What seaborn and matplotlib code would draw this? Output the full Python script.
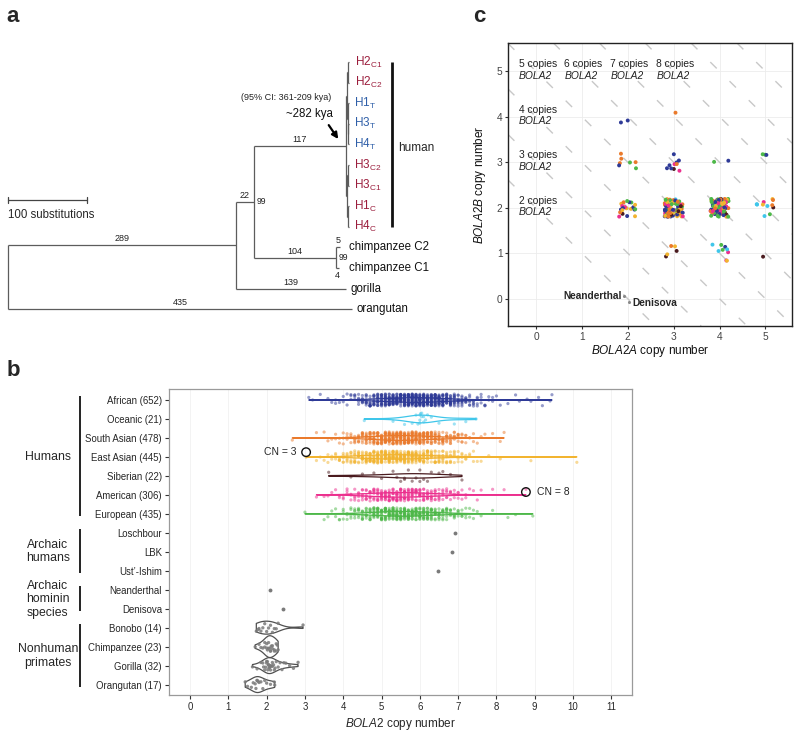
import numpy as np
import pandas as pd
import matplotlib
matplotlib.use("Agg")
import matplotlib.pyplot as plt
import matplotlib.transforms as mtransforms
import seaborn as sns

sns.set_style("white")
plt.rcParams['font.family'] = ['Liberation Sans', 'DejaVu Sans']
plt.rcParams['mathtext.fontset'] = 'custom'
plt.rcParams['mathtext.rm'] = 'Liberation Sans'
plt.rcParams['mathtext.it'] = 'Liberation Sans:italic'
plt.rcParams['mathtext.bf'] = 'Liberation Sans:bold'

# ---------------- panel a: tree ----------------
# node = (tip name, branch length in substitutions, children, bootstrap)
def leaf(name, bl):
    return (name, bl, [], None)

human_clade = ("", 117, [
    ("", 1, [
        ("", 1, [leaf("H2|C1", 2), leaf("H2|C2", 2)], None),
        ("", 1, [leaf("H1|T", 1.5), ("", 0.5, [leaf("H3|T", 1), leaf("H4|T", 1)], None)], None),
    ], None),
    ("", 1, [
        ("", 1, [leaf("H3|C2", 1.5), leaf("H3|C1", 1.5)], None),
        ("", 1.5, [leaf("H1|C", 1), leaf("H4|C", 1)], None),
    ], None),
], None)
chimp_clade = ("", 104, [leaf("chimpanzee C2", 5), leaf("chimpanzee C1", 4)], 99)
tree = ("", 0, [
    ("", 289, [
        ("", 22, [human_clade, chimp_clade], 99),
        leaf("gorilla", 139),
    ], None),
    leaf("orangutan", 435),
], None)

hap_colors = {'C': '#9B1D3C', 'T': '#2F5FA8'}

# ---------------- panel b: BOLA2 copy number per population ----------------
groups = ['African (652)', 'Oceanic (21)', 'South Asian (478)', 'East Asian (445)',
          'Siberian (22)', 'American (306)', 'European (435)', 'Loschbour', 'LBK',
          'Ust\u2019-Ishim', 'Neanderthal', 'Denisova', 'Bonobo (14)',
          'Chimpanzee (23)', 'Gorilla (32)', 'Orangutan (17)']

# large populations: counts in 0.1-wide bins from a start value, plus sparse tail points
african_start = 3.6
african_counts = [1, 1, 2, 1, 2, 2, 3, 4, 5, 7, 9, 11, 13, 16, 18, 20, 22, 24, 26, 28,
                  30, 31, 32, 32, 32, 31, 30, 28, 26, 24, 21, 18, 16, 13, 11, 9, 7, 6, 5, 4,
                  3, 3, 2, 2, 1, 1]
african_extra = [3.1, 3.2, 3.4, 8.3, 8.5, 8.6, 8.8, 8.9, 9.1, 9.2, 9.4, 9.45]

south_asian_start = 3.3
south_asian_counts = [1, 0, 1, 1, 1, 2, 2, 3, 3, 4, 5, 7, 9, 11, 13, 15, 17, 19, 21, 22,
                      23, 24, 24, 24, 23, 22, 21, 20, 18, 16, 15, 13, 11, 10, 8, 7, 6, 5, 4, 3,
                      2, 2, 1, 1, 1]
south_asian_extra = [2.67, 7.9, 8.1, 8.2]

east_asian_start = 3.3
east_asian_counts = [1, 1, 1, 2, 2, 3, 4, 5, 6, 7, 9, 10, 12, 14, 15, 17, 18, 19, 20, 20,
                     21, 21, 20, 20, 19, 18, 17, 16, 14, 13, 11, 10, 9, 8, 7, 6, 5, 4, 4, 3,
                     2, 2, 1, 1]
east_asian_extra = [3.03, 7.8, 8.1, 8.9, 10.1]

american_start = 3.3
american_counts = [1, 0, 1, 1, 1, 1, 2, 2, 3, 3, 4, 5, 6, 7, 8, 9, 10, 11, 12, 13,
                   13, 14, 14, 14, 13, 13, 12, 11, 10, 9, 8, 7, 6, 5, 5, 4, 3, 3, 2, 2,
                   1, 1, 1, 1]
american_extra = [7.9, 8.2, 8.77]

european_start = 3.5
european_counts = [1, 1, 1, 2, 2, 3, 3, 4, 5, 6, 8, 9, 11, 13, 15, 17, 18, 19, 20, 21,
                   21, 21, 20, 20, 19, 18, 16, 15, 13, 12, 10, 9, 8, 6, 5, 4, 4, 3, 2, 2,
                   1, 1]
european_extra = [3.0, 7.9, 8.3, 8.5, 8.95]

# small groups: individual values
oceanic = [4.55, 5.3, 5.6, 5.8, 5.9, 5.95, 6.0, 6.0, 6.0, 6.02, 6.05, 6.05, 6.1, 6.1,
           6.15, 6.2, 6.3, 6.5, 6.9, 7.2, 7.47]
siberian = [3.62, 4.2, 4.5, 4.8, 5.0, 5.3, 5.4, 5.5, 5.6, 5.6, 5.7, 5.8, 5.9, 6.0,
            6.0, 6.1, 6.2, 6.3, 6.5, 6.6, 6.8, 7.1]
loschbour = [6.93]
lbk = [6.85]
ust_ishim = [6.48]
neanderthal = [2.09]
denisova = [2.43]
bonobo = [1.73, 1.78, 1.8, 1.85, 1.9, 1.95, 2.0, 2.05, 2.1, 2.15, 2.2, 2.25, 2.3, 2.95]
chimpanzee = [1.7, 1.8, 1.85, 1.9, 1.95, 1.95, 2.0, 2.0, 2.02, 2.05, 2.05, 2.08, 2.1,
              2.1, 2.12, 2.15, 2.15, 2.2, 2.2, 2.25, 2.25, 2.28, 2.3]
gorilla = [1.63, 1.75, 1.85, 1.9, 1.92, 1.95, 1.98, 2.0, 2.0, 2.02, 2.03, 2.05, 2.05,
           2.07, 2.08, 2.1, 2.1, 2.12, 2.15, 2.15, 2.18, 2.2, 2.22, 2.25, 2.3, 2.35,
           2.4, 2.45, 2.5, 2.6, 2.7, 2.82]
orangutan = [1.44, 1.5, 1.6, 1.65, 1.7, 1.72, 1.75, 1.75, 1.78, 1.8, 1.85, 1.9, 1.95,
             2.0, 2.1, 2.2, 2.21]

pop_colors = ['#2E3A97', '#3FC6EA', '#EA7A2C', '#F2B430', '#4A1B1F', '#EC2F8E', '#4DB849']
section_names = ['Humans', 'Archaic\nhumans', 'Archaic\nhominin\nspecies', 'Nonhuman\nprimates']
section_rows = [(0, 6), (7, 9), (10, 11), (12, 15)]

# ---------------- panel c: BOLA2A vs BOLA2B ----------------
pops = ['African', 'Oceanic', 'South Asian', 'East Asian', 'Siberian', 'American', 'European']
c_cells = [(2, 4), (3, 4), (2, 3), (3, 3), (4, 3), (5, 3), (2, 2), (3, 2), (4, 2),
           (5, 2), (3, 1), (4, 1), (5, 1)]
c_counts = [[2, 0, 0, 0, 0, 0, 0],
            [0, 0, 1, 0, 0, 0, 0],
            [1, 0, 4, 0, 0, 0, 2],
            [6, 0, 1, 0, 1, 2, 0],
            [1, 0, 0, 0, 0, 0, 1],
            [1, 0, 0, 0, 0, 0, 2],
            [6, 0, 2, 6, 1, 3, 3],
            [20, 3, 14, 20, 5, 14, 18],
            [20, 2, 14, 16, 6, 18, 28],
            [0, 4, 2, 2, 1, 1, 1],
            [0, 0, 1, 2, 2, 0, 0],
            [1, 3, 0, 1, 0, 2, 2],
            [0, 0, 0, 0, 1, 0, 0]]
archaic_names = ['Neanderthal', 'Denisova']
archaic_cell = (2, 0)
copy_totals = [2, 3, 4, 5, 6, 7, 8]
diag_totals = [2, 3, 4, 5, 6, 7, 8, 9, 10]

# ======================================================================
fig = plt.figure(figsize=(8, 7.34), dpi=100)

# ---------------- panel a ----------------
axa = fig.add_axes([0, 0.564, 0.55, 0.395])
segs, blabels, boots, tips = [], [], [], []


def place(node, x0, below=False):
    name, bl, kids, boot = node
    x1 = x0 + bl
    if kids:
        ys = [place(k, x1, below=(i == len(kids) - 1)) for i, k in enumerate(kids)]
        y = (ys[0] + ys[-1]) / 2
        segs.append(((x1, x1), (ys[0], ys[-1])))
        if boot:
            boots.append((x1, y, boot))
    else:
        y = len(tips)
        tips.append((name, x1, y))
    segs.append(((x0, x1), (y, y)))
    if bl >= 4:
        blabels.append(((x0 + x1) / 2, y, bl, below and bl < 10))
    return y


place(tree, 0)
for xs, ys in segs:
    axa.plot(xs, ys, color='#5c5c5c', lw=0.9, solid_capstyle='butt')
for x, y, bl, below in blabels:
    if below:
        axa.annotate(f"{bl:g}", (x, y), xytext=(0, -2), textcoords='offset points',
                     ha='center', va='top', fontsize=6.5, color='#222222')
    else:
        axa.annotate(f"{bl:g}", (x, y), xytext=(0, 1.5), textcoords='offset points',
                     ha='center', va='bottom', fontsize=6.5, color='#222222')
for x, y, b in boots:
    axa.annotate(str(b), (x, y), xytext=(2, 0), textcoords='offset points',
                 ha='left', va='center', fontsize=6.2, color='#222222')
for name, x, y in tips:
    if '|' in name:
        base, sub = name.split('|')
        axa.text(x + 7, y, base + r"$_{\mathregular{" + sub + "}}$", ha='left', va='center',
                 fontsize=8.5, color=hap_colors[sub[0]])
    else:
        off = 12 if name.startswith('chimp') else 6
        axa.text(x + off, y, name, ha='left', va='center', fontsize=8.3, color='#111111')

# human bracket and label
h_rows = [y for n, x, y in tips if '|' in n]
axa.plot([486, 486], [min(h_rows), max(h_rows)], color='#111111', lw=2, solid_capstyle='butt')
axa.text(494, (min(h_rows) + max(h_rows)) / 2 + 0.15, 'human', ha='left', va='center', fontsize=8.5)
# divergence time annotation
axa.text(352, 1.7, '(95% CI: 361-209 kya)', ha='center', va='center', fontsize=6.5, color='#222222')
axa.text(381, 2.5, '~282 kya', ha='center', va='center', fontsize=8.3, color='#111111')
axa.annotate('', xy=(420, 3.85), xytext=(404, 2.95),
             arrowprops=dict(arrowstyle='-|>', color='black', lw=1.6, mutation_scale=9))
# scale bar
axa.plot([0, 100], [6.7, 6.7], color='#444444', lw=0.9)
axa.plot([0, 0], [6.55, 6.85], color='#444444', lw=0.9)
axa.plot([100, 100], [6.55, 6.85], color='#444444', lw=0.9)
axa.text(0, 7.4, '100 substitutions', ha='left', va='center', fontsize=8.3)
axa.set_xlim(-10.1, 546.8)
axa.set_ylim(12.52, -1.55)
axa.axis('off')

# ---------------- panel b ----------------
def binned(start, counts, extra):
    centres = np.round(start + 0.1 * np.arange(len(counts)), 2)
    return list(np.repeat(centres, counts)) + list(extra)


group_values = [binned(african_start, african_counts, african_extra), oceanic,
                binned(south_asian_start, south_asian_counts, south_asian_extra),
                binned(east_asian_start, east_asian_counts, east_asian_extra), siberian,
                binned(american_start, american_counts, american_extra),
                binned(european_start, european_counts, european_extra),
                loschbour, lbk, ust_ishim, neanderthal, denisova,
                bonobo, chimpanzee, gorilla, orangutan]
df_b = pd.DataFrame({'group': np.repeat(groups, [len(v) for v in group_values]),
                     'cn': np.concatenate([np.asarray(v, float) for v in group_values])})
line_pal = {g: (pop_colors[i] if i < 7 else '#505050') for i, g in enumerate(groups)}
dot_pal = {g: (pop_colors[i] if i < 7 else '#7a7a7a') for i, g in enumerate(groups)}

axb = fig.add_axes([169 / 800, 39 / 734, 463 / 800, 306 / 734])
sizes = df_b.groupby('group')['cn'].transform('size')
human = df_b[df_b['group'].isin(groups[:7])]
archaic = df_b[df_b['group'].isin(groups[7:12])]
apes = df_b[df_b['group'].isin(groups[12:])]

sns.stripplot(data=human, x='cn', y='group', hue='group', order=groups, palette=dot_pal,
              size=2.3, jitter=0.32, alpha=0.5, linewidth=0, legend=False, ax=axb)
sns.stripplot(data=archaic, x='cn', y='group', hue='group', order=groups, palette=dot_pal,
              size=2.8, jitter=False, linewidth=0, legend=False, ax=axb)
sns.stripplot(data=apes, x='cn', y='group', hue='group', order=groups, palette=dot_pal,
              size=2.4, jitter=0.25, alpha=0.85, linewidth=0, legend=False, ax=axb)
sns.violinplot(data=df_b[sizes > 1], x='cn', y='group', hue='group', order=groups,
               palette=line_pal, fill=False, inner=None, cut=0, density_norm='area',
               common_norm=True, width=1.15, linewidth=0.9, legend=False, ax=axb)

# circled individuals
axb.scatter([3.03, 8.77], [3 - 0.25, 5 - 0.15], s=38, facecolors='none',
            edgecolors='#111111', linewidths=1.0, zorder=5)
axb.text(2.78, 3 - 0.25, 'CN = 3', ha='right', va='center', fontsize=7.5)
axb.text(9.05, 5 - 0.15, 'CN = 8', ha='left', va='center', fontsize=7.5)

axb.set_xlim(-0.55, 11.54)
axb.set_ylim(15.55, -0.58)
axb.set_xticks(range(12))
axb.set_xlabel(r'$\it{BOLA2}$ copy number', fontsize=8.5, labelpad=3)
axb.set_ylabel('')
axb.tick_params(axis='both', length=3, width=0.8, color='#333333', pad=2, labelsize=6.9,
                left=True, bottom=True)
axb.grid(axis='x', color='#f1f1f1', lw=0.6)
axb.set_axisbelow(True)
for sp in axb.spines.values():
    sp.set_color('#9a9a9a')
    sp.set_linewidth(0.9)

trans = mtransforms.blended_transform_factory(axb.transAxes, axb.transData)
for name, (r0, r1) in zip(section_names, section_rows):
    axb.plot([-0.192, -0.192], [r0 - 0.2, r1 + 0.12], transform=trans, clip_on=False,
             color='#111111', lw=1.3, solid_capstyle='butt')
    axb.text(-0.262, (r0 + r1) / 2, name, transform=trans, ha='center', va='center',
             fontsize=8.8, linespacing=1.15)

# ---------------- panel c ----------------
axc = fig.add_axes([508 / 800, 408 / 734, 284 / 800, 283 / 734])
rows = []
for (a, b), counts in zip(c_cells, c_counts):
    for p, n in zip(pops, counts):
        rows += [(a, b, p)] * n
df_c = pd.DataFrame(rows, columns=['BOLA2A', 'BOLA2B', 'pop'])
rng = np.random.default_rng(11)
# jitter like geom_jitter, then shuffle draw order
df_c['x'] = df_c['BOLA2A'] + rng.uniform(-0.2, 0.2, len(df_c))
df_c['y'] = df_c['BOLA2B'] + rng.uniform(-0.2, 0.2, len(df_c))
df_c = df_c.iloc[rng.permutation(len(df_c))]

for t in diag_totals:
    axc.axline((0, t), slope=-1, color='#c8c8c8', lw=1.0, ls=(0, (6.5, 13)), zorder=1)
sns.scatterplot(data=df_c, x='x', y='y', hue='pop', palette=dict(zip(pops, pop_colors)),
                s=8, linewidth=0, legend=False, ax=axc, zorder=3)

arch_x = [archaic_cell[0] - 0.08, archaic_cell[0] + 0.03]
arch_y = [archaic_cell[1] + 0.05, archaic_cell[1] - 0.07]
axc.scatter(arch_x, arch_y, s=5, color='#8a8a8a', linewidths=0, zorder=3)
axc.text(arch_x[0] - 0.06, arch_y[0] + 0.02, archaic_names[0], ha='right', va='center',
         fontsize=7.3, fontweight='bold')
axc.text(arch_x[1] + 0.08, arch_y[1] - 0.03, archaic_names[1], ha='left', va='center',
         fontsize=7.3, fontweight='bold')

for t in copy_totals:
    a = max(0, t - 5)
    b = t - a
    axc.text(a - 0.38, b + 0.15, f'{t} copies', ha='left', va='center', fontsize=7.4,
             color='#222222')
    axc.text(a - 0.38, b - 0.1, 'BOLA2', ha='left', va='center', fontsize=7.4,
             style='italic', color='#222222')

axc.set_xlim(-0.61, 5.58)
axc.set_ylim(-0.6, 5.62)
axc.set_xticks(range(6))
axc.set_yticks(range(6))
axc.grid(True, color='#ececec', lw=0.6)
axc.set_axisbelow(True)
axc.set_xlabel(r'$\it{BOLA2A}$ copy number', fontsize=8.5, labelpad=1, color='#111111')
axc.set_ylabel(r'$\it{BOLA2B}$ copy number', fontsize=8.5, labelpad=6, color='#111111')
axc.tick_params(axis='both', length=2.5, width=0.8, color='#333333', pad=1.5,
                labelsize=7.3, labelcolor='#444444', left=True, bottom=True)
for sp in axc.spines.values():
    sp.set_color('#222222')
    sp.set_linewidth(1.0)

# panel letters
fig.text(0.008, 0.992, 'a', ha='left', va='top', fontsize=16, fontweight='bold')
fig.text(0.008, 1 - 360 / 734, 'b', ha='left', va='top', fontsize=16, fontweight='bold')
fig.text(0.592, 0.992, 'c', ha='left', va='top', fontsize=16, fontweight='bold')

fig.savefig('out.png', dpi=100)
